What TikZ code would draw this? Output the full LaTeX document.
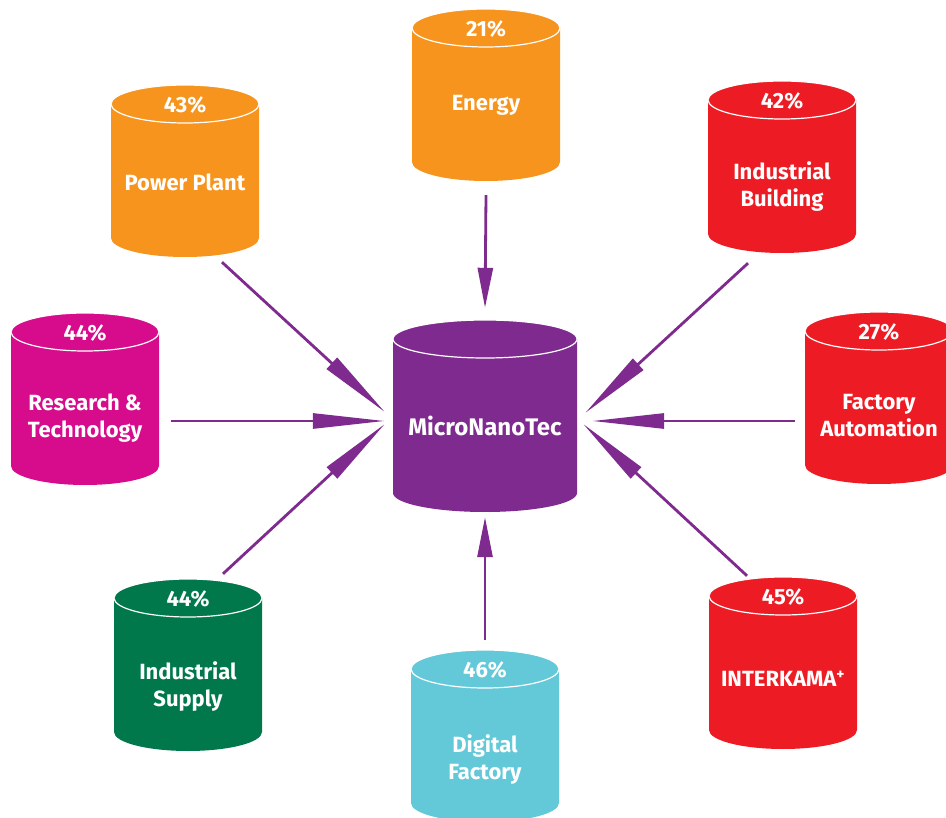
\documentclass[tikz,border=0pt]{standalone}
\usepackage{fontspec}
\setmainfont{Fira Sans}
\usetikzlibrary{arrows.meta}

\definecolor{fairorange}{HTML}{F7941D}
\definecolor{fairred}{HTML}{ED1C24}
\definecolor{fairmagenta}{HTML}{D60C8C}
\definecolor{fairgreen}{HTML}{00784C}
\definecolor{faircyan}{HTML}{63C9D8}
\definecolor{fairpurple}{HTML}{7F2A8E}

% cylinder drawn inside a plain rectangle node
\tikzset{
  drum rx/.store in=\drumrx, drum rx=74pt,
  drum/.style={minimum width=2*\drumrx, minimum height=172pt, inner sep=0pt,
    path picture={
      \fill[#1] ([yshift=-19pt]path picture bounding box.north west)
        -- ([yshift=19pt]path picture bounding box.south west)
        arc[start angle=180, end angle=360, x radius=\drumrx, y radius=19pt]
        -- ([yshift=-19pt]path picture bounding box.north east)
        arc[start angle=0, end angle=180, x radius=\drumrx, y radius=19pt]
        -- cycle;
      \draw[white, line width=1.2pt] ([yshift=-19pt]path picture bounding box.north)
        ellipse[x radius=\drumrx, y radius=19pt];
    }},
  pct/.style={anchor=center, yshift=-20pt, text=white,
    font=\bfseries\fontsize{22}{27}\selectfont},
  caption/.style={anchor=center, yshift=-#1pt, text=white, align=center,
    font=\bfseries\fontsize{22}{27}\selectfont},
}

\begin{document}
\begin{tikzpicture}[x=1pt, y=-1pt,
    feed/.style={draw=fairpurple, line width=2.8pt, -{Triangle[length=72pt, width=15pt]}},
    shortfeed/.style={draw=fairpurple, line width=2.8pt, -{Triangle[length=40pt, width=15pt]}}]
  \useasboundingbox (0,0) rectangle (946,818);

  % hub
  \node[drum rx=92pt, drum=fairpurple, minimum height=192pt,
    label={[caption=10, font=\bfseries\fontsize{24}{27}\selectfont]center:MicroNanoTec}] (mnt) at (485,416) {};

  % fairs around the hub
  \node[drum=fairorange, label={[pct]north:21\%},
    label={[caption=10]center:Energy}] (energy) at (486,95) {};
  \node[drum=fairorange, label={[pct]north:43\%},
    label={[caption=11]center:Power Plant}] (pp) at (185,171) {};
  \node[drum=fairred, label={[pct]north:42\%},
    label={[caption=20]center:Industrial\\Building}] (ib) at (782,167) {};
  \node[drum=fairmagenta, label={[pct]north:44\%},
    label={[caption=19]center:Research \&\\Technology}] (rt) at (85,399) {};
  \node[drum=fairred, label={[pct]north:27\%},
    label={[caption=18]center:Factory\\Automation}] (fa) at (879,398) {};
  \node[drum=fairgreen, label={[pct]north:44\%},
    label={[caption=22]center:Industrial\\Supply}] (is) at (188,665) {};
  \node[drum=faircyan, label={[pct]north:46\%},
    label={[caption=24]center:Digital\\Factory}] (df) at (485,736) {};
  \node[drum=fairred, label={[pct]north:45\%},
    label={[caption=16]center:INTERKAMA\textsuperscript{+}}] (ik) at (783,663) {};

\begin{scope}
  \draw[shortfeed] ([shift={(0,14)}]energy.south) -- ([shift={(0,-12)}]mnt.north);
  \draw[shortfeed] ([shift={(0,-10)}]df.north) -- ([shift={(0,5)}]mnt.south);
  \draw[feed] ([shift={(37,5)}]pp.south) -- ([shift={(-8,-4)}]mnt.west);
  \draw[feed] ([shift={(12,22)}]rt.east) -- ([shift={(-8,5)}]mnt.west);
  \draw[feed] ([shift={(35,-5)}]is.north) -- ([shift={(-8,8)}]mnt.west);
  \draw[feed] ([shift={(-34,10)}]ib.south) -- ([shift={(8,-3)}]mnt.east);
  \draw[feed] ([shift={(-10,23)}]fa.west) -- ([shift={(15,5)}]mnt.east);
  \draw[feed] ([shift={(-36,-1)}]ik.north) -- ([shift={(6,8)}]mnt.east);
\end{scope}
\end{tikzpicture}
\end{document}
